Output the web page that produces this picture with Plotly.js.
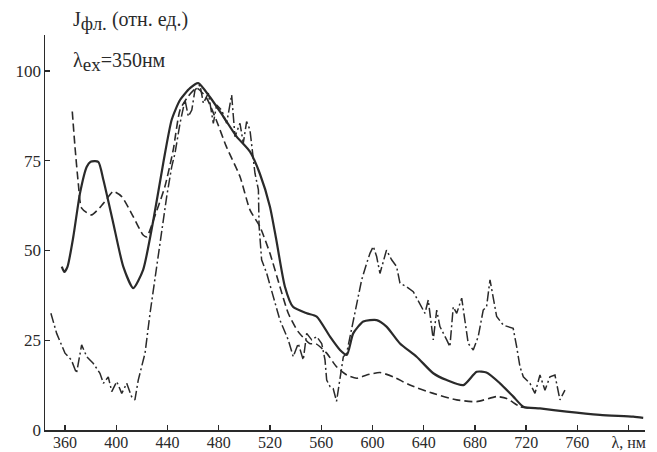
<!DOCTYPE html>
<html>
<head>
<meta charset="utf-8">
<script src="https://cdn.plot.ly/plotly-3.0.1.min.js"></script>
<style>
  html, body { margin: 0; padding: 0; background: #fff; }
  #chart { width: 657px; height: 452px; }
</style>
</head>
<body>
<div id="chart"></div>
<script>
// Fluorescence spectra, excitation at 350 nm.
// Wavelength (nm) and intensity (rel. units) for each of the three spectra.

const solidWl = [357.5, 359.5, 362, 366.5, 371.7, 377, 380, 386, 390, 397.7, 405.5, 413.3, 421, 429, 436.7,
  443.3, 449.8, 457.6, 464, 473, 483.6, 494, 504.4, 512, 520, 525, 531.7, 538, 548.7, 556.5, 566.9, 574.7,
  580, 585, 592.9, 603.3, 611, 621.5, 634.5, 647.5, 658, 671, 681.4, 689, 699.6, 710, 717.8, 730.8, 751.6,
  777.6, 803.6, 811.4];
const solidVal = [45.5, 44.0, 45.5, 53.8, 65.9, 73.3, 74.7, 74.7, 69.6, 57.6, 45.5, 39.5, 44.6, 58.5, 74.3,
  86.4, 91.9, 95.2, 96.6, 92.8, 87.3, 81.7, 77.5, 71.5, 62.2, 52.9, 39.9, 34.3, 32.5, 31.6, 26.0, 22.3,
  20.9, 26.9, 30.2, 30.6, 28.8, 24.1, 20.4, 15.8, 13.9, 12.5, 16.2, 16.0, 13.0, 9.3, 6.5, 6.0, 5.1,
  4.2, 3.7, 3.4];

const dashWl = [365.7, 367.8, 370.4, 373, 380.8, 390, 397.7, 404.3, 413.3, 421, 423.8, 430, 438, 444.5,
  449.8, 456, 462.8, 470.6, 478, 486, 496.6, 504.4, 512.2, 520, 527.8, 534.3, 542, 551, 556, 564.3, 572,
  580, 587.7, 595.5, 605.9, 616.3, 629.3, 647.5, 665.8, 681.4, 697, 704.8, 715.2, 725];
const dashVal = [88.7, 78.9, 68.7, 61.8, 59.9, 63.1, 66.4, 65.0, 59.4, 54.3, 53.8, 59.4, 67.8, 78.0,
  89.1, 92.8, 95.2, 92.4, 86.4, 78.9, 70.6, 61.3, 56.6, 49.2, 39.9, 32.5, 27.4, 24.1, 24.0, 21.4, 17.6,
  15.3, 14.4, 15.3, 16.0, 14.8, 12.5, 10.2, 8.4, 7.9, 9.3, 8.8, 6.5, 6.0];

const dotWl = [349, 353.5, 360, 365, 369, 373, 377, 382, 387.3, 390, 393.8, 396.5, 400.4, 404.3, 408.2,
  412, 414.6, 417.2, 422.5, 426.4, 431.6, 435.5, 439.4, 443.3, 445.9, 449.8, 453.7, 456.3, 459, 461.5,
  465.4, 468, 471.9, 475.8, 478.4, 482.3, 486.2, 490.1, 492.7, 496.6, 499.2, 501.8, 504.4, 508.3, 511,
  511.5, 513.5, 517.5, 522.6, 527.8, 534.3, 538.2, 542.1, 546, 548.7, 552.6, 556.5, 560.4, 563, 564.3,
  566.9, 569.4, 572, 574.7, 577.3, 579.9, 583.8, 587.7, 591.6, 595.5, 598.1, 600.7, 603.3, 605.9, 611,
  615, 618.9, 621.5, 626.7, 631.9, 637.1, 641, 643.6, 647.5, 650.2, 652.7, 658, 660.5, 663.1, 665.8,
  669.7, 672.2, 674.8, 678.7, 682.6, 686.5, 689.1, 691.8, 694.3, 697, 702.2, 709.9, 712.6, 715.2, 717.8,
  723, 726.9, 730.8, 734.7, 738.6, 742.5, 746.4, 750.3];
const dotVal = [32.5, 26.9, 21.4, 19.5, 15.8, 23.7, 20.4, 18.6, 15.8, 13.0, 14.8, 10.7, 13.5, 10.2, 13.0,
  9.3, 8.4, 13.9, 21.4, 32.5, 45.5, 55.7, 65.0, 73.3, 77.1, 85.4, 91.9, 87.3, 89.1, 94.7,
  96.1, 91.0, 93.8, 85.4, 90.5, 89.1, 85.4, 93.3, 81.7, 85.4, 79.9, 85.9, 83.6, 71.5, 66.9,
  57.0, 47.4, 43.6, 37.1, 30.6, 25.1, 20.4, 24.1, 19.5, 26.9, 25.1, 26.0, 24.1, 19.5, 13.9,
  12.1, 11.5, 8.0, 14.8, 20.4, 21.4, 27.9, 35.3, 41.8, 46.4, 49.2, 51.1, 48.3, 43.6, 50.1,
  47.4, 45.5, 40.9, 39.9, 38.5, 35.3, 32.5, 36.2, 25.1, 33.4, 28.8, 25.1, 23.2, 34.3, 32.5,
  36.7, 30.6, 24.1, 22.3, 26.0, 33.4, 34.3, 41.8, 37.1, 31.6, 29.2, 28.3, 23.2, 17.6, 14.8,
  13.0, 10.2, 15.3, 11.1, 14.8, 15.3, 8.4, 11.1];

const tickVals = [360, 400, 440, 480, 520, 560, 600, 640, 680, 720, 760, 800];
const tickText = ['360', '400', '440', '480', '520', '560', '600', '640', '680', '720', '760', 'λ, нм'];
const yTickVals = [0, 25, 50, 75, 100];

const ink = '#2a2a2a';
const serif = 'Liberation Serif, Times New Roman, serif';

const traces = [
  { x: solidWl, y: solidVal, mode: 'lines', line: { color: ink, width: 2.2, shape: 'spline', smoothing: 0.6 } },
  { x: dashWl, y: dashVal, mode: 'lines', line: { color: ink, width: 1.6, dash: '8px,4px', shape: 'spline', smoothing: 0.6 } },
  { x: dotWl, y: dotVal, mode: 'lines', line: { color: ink, width: 1.5, dash: '10px,3px,2px,3px' } }
];

const layout = {
  width: 657,
  height: 452,
  margin: { l: 45, r: 12, t: 35, b: 22 },
  paper_bgcolor: '#ffffff',
  plot_bgcolor: '#ffffff',
  showlegend: false,
  font: { family: serif, size: 16, color: ink },
  xaxis: {
    range: [344.4, 812.8],
    tickmode: 'array',
    tickvals: tickVals,
    ticktext: tickText,
    ticks: 'inside',
    ticklen: 5,
    tickwidth: 1.3,
    tickcolor: ink,
    ticklabelstandoff: -3,
    showline: true,
    linecolor: ink,
    linewidth: 1.5,
    showgrid: false,
    zeroline: false,
    tickfont: { family: serif, size: 16, color: ink }
  },
  yaxis: {
    range: [0, 110],
    tickmode: 'array',
    tickvals: yTickVals,
    ticks: 'inside',
    ticklen: 5,
    tickwidth: 1.3,
    tickcolor: ink,
    ticklabelstandoff: -1,
    showline: true,
    linecolor: ink,
    linewidth: 1.5,
    showgrid: false,
    zeroline: false,
    tickfont: { family: serif, size: 17, color: ink }
  },
  annotations: [
    { xref: 'paper', yref: 'paper', x: 0.043, y: 1.035, xanchor: 'left', yanchor: 'middle', showarrow: false,
      text: 'J<sub><span style="font-size:19px">фл.</span></sub> (отн. ед.)', font: { family: serif, size: 20, color: ink } },
    { xref: 'paper', yref: 'paper', x: 0.043, y: 0.932, xanchor: 'left', yanchor: 'middle', showarrow: false,
      text: 'λ<sub><span style="font-size:19px">ex</span></sub>=350нм', font: { family: serif, size: 20, color: ink } }
  ]
};

Plotly.newPlot('chart', traces, layout, { staticPlot: true, displayModeBar: false });
</script>
</body>
</html>
